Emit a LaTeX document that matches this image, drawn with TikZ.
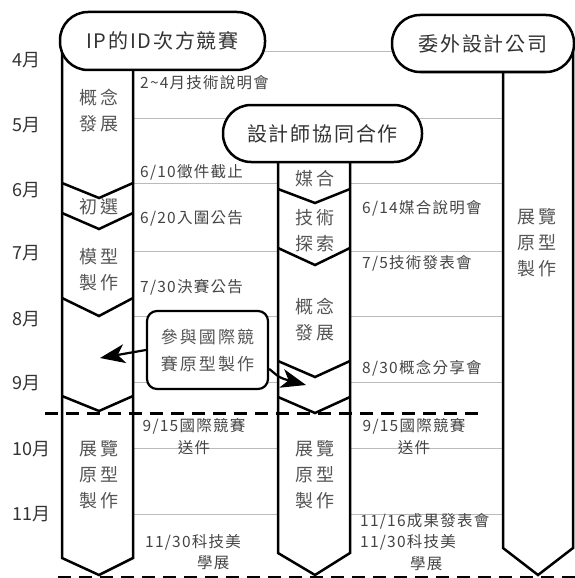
\documentclass[tikz,border=0pt]{standalone}
\usepackage{fontspec}
\setmainfont{Noto Sans CJK TC}
\newfontfamily\cjk{Noto Sans CJK TC}
\newfontfamily\cjksp[LetterSpace=12]{Noto Sans CJK TC}
\newfontfamily\cjkhd[LetterSpace=9]{Noto Sans CJK TC}
\newfontfamily\cjkev[LetterSpace=8]{Noto Sans CJK TC}
\usetikzlibrary{arrows.meta}
\definecolor{txt}{HTML}{333333}
\definecolor{lanetxt}{HTML}{555555}
\definecolor{evtxt}{HTML}{444444}
\definecolor{gridc}{HTML}{BBBBBB}
\begin{document}
\begin{tikzpicture}[x=1pt,y=-1pt,
  lane/.style={line width=2.5pt, line join=miter},
  gridl/.style={gridc, line width=1pt},
  dash line/.style={line width=3pt, dash pattern=on 13pt off 8pt},
  hdr/.style={draw, line width=2.5pt, fill=white, rounded corners=28pt, inner sep=0pt,
    font=\fontsize{20}{24}\selectfont\cjkhd, text=txt},
  month/.style={anchor=west, inner sep=0pt, font=\fontsize{18}{20}\selectfont\cjk, text=txt},
  lanetext/.style={inner sep=0pt, align=center, font=\fontsize{18}{26}\selectfont\cjksp, text=lanetxt},
  ev/.style={anchor=west, inner sep=0pt, align=left, font=\fontsize{15.5}{21.5}\selectfont\cjkev, text=evtxt},
  evc/.style={inner sep=0pt, align=center, font=\fontsize{15.5}{22}\selectfont\cjkev, text=evtxt},
  arr/.style={line width=2.2pt, -{Stealth[length=25pt,width=19pt,inset=7pt]}},
  callbox/.style={draw, line width=2.2pt, fill=white, rounded corners=10pt, inner sep=0pt,
    minimum width=121pt, minimum height=78pt, align=center,
    font=\fontsize{17}{27}\selectfont\cjksp, text=lanetxt}
]
\useasboundingbox (0,0) rectangle (575,578);

% month grid lines
\draw[gridl] (133,52) -- (503,52);
\draw[gridl] (133,118) -- (503,118);
\foreach \yy in {183,251,316,382,448,514}{
  \draw[gridl] (133,\yy) -- (278,\yy);
  \draw[gridl] (350,\yy) -- (503,\yy);
}

% dashed separators
\draw[dash line] (45,413) -- (485,413);
\draw[dash line] (58,577) -- (575,577);

% left lane
\draw[lane] (62,50) -- (62,558) -- (99,575) -- (133,558) -- (133,70);
\draw[lane] (62,183) -- (99,198) -- (133,183);
\draw[lane] (62,213) -- (99,229) -- (133,213);
\draw[lane] (62,298) -- (99,316) -- (133,298);
\draw[lane] (62,396) -- (99,411) -- (133,396);

% middle lane
\draw[lane] (278,160) -- (278,553) -- (315,575) -- (350,553) -- (350,160);
\draw[lane] (278,189) -- (315,203) -- (350,189);
\draw[lane] (278,248) -- (315,265) -- (350,248);
\draw[lane] (278,361) -- (315,377) -- (350,361);
\draw[lane] (278,397) -- (315,413) -- (350,397);

% right lane
\draw[lane] (503,70) -- (503,548) -- (538,575) -- (573,548) -- (573,45);

% headers
\node[hdr, minimum width=205pt, minimum height=58pt] (hIP) at (162.5,41) {IP的ID次方競賽};
\node[hdr, minimum width=199pt, minimum height=57pt] (hMid) at (322.5,133.5) {設計師協同合作};
\node[hdr, minimum width=182pt, minimum height=57pt] (hOut) at (483,43.5) {委外設計公司};

% month labels
\node[month] (m4) at (12,60) {4月};
\node[month] (m5) at (12,125) {5月};
\node[month] (m6) at (12,190) {6月};
\node[month] (m7) at (12,253) {7月};
\node[month] (m8) at (12,319) {8月};
\node[month] (m9) at (12,383) {9月};
\node[month] (m10) at (12,449) {10月};
\node[month] (m11) at (12,514) {11月};

% left lane texts
\node[lanetext] (l1) at (99,111) {概念\\發展};
\node[lanetext] (l2) at (99,207) {初選};
\node[lanetext] (l3) at (99,270) {模型\\製作};
\node[lanetext] (l4) at (99,475) {展覽\\原型\\製作};

% middle lane texts
\node[lanetext] (c1) at (315,179) {媒合};
\node[lanetext] (c2) at (315,231) {技術\\探索};
\node[lanetext] (c3) at (315,320) {概念\\發展};
\node[lanetext] (c4) at (315,475) {展覽\\原型\\製作};

% right lane text
\node[lanetext] (r1) at (537,243) {展覽\\原型\\製作};

% events left
\node[ev] (e1) at (140,83) {2\textasciitilde 4月技術說明會};
\node[ev] (e2) at (140,172) {6/10徵件截止};
\node[ev] (e3) at (140,218) {6/20入圍公告};
\node[ev] (e4) at (140,287) {7/30決賽公告};
\node[evc] (e5) at (194,437) {9/15國際競賽\\送件};
\node[ev] (e6) at (145,552) {11/30科技美\\\hspace*{52pt}學展};

% events right
\node[ev] (f1) at (362,208) {6/14媒合說明會};
\node[ev] (f2) at (362,263) {7/5技術發表會};
\node[ev] (f3) at (362,368) {8/30概念分享會};
\node[evc] (f4) at (414,437) {9/15國際競賽\\送件};
\node[ev] (f5) at (360,542) {11/16成果發表會\\11/30科技美\\\hspace*{50pt}學展};

% callout
\node[callbox] (call) at (207.5,350) {參與國際競\\賽原型製作};
\coordinate (tipL) at (100,358);
\coordinate (tipR) at (306,385);
\draw[arr] (call.west) -- (tipL);
\draw[arr] (call.-17) .. controls (280,378) .. (tipR);
\end{tikzpicture}
\end{document}
